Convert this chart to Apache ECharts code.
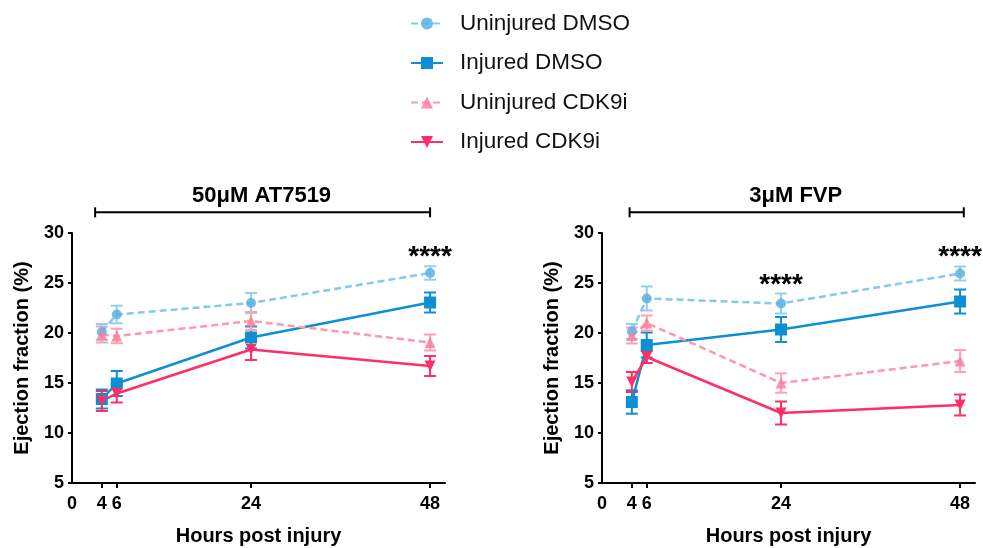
<!DOCTYPE html>
<html><head><meta charset="utf-8">
<script src="https://cdn.jsdelivr.net/npm/echarts@6/dist/echarts.min.js"></script>
<style>html,body{margin:0;padding:0;background:#fff}#c{width:983px;height:548px}</style>
</head><body><div id="c"></div>
<script>
// ---------- data ----------
const hours = [4, 6, 24, 48];
const xTickValues = [0, 4, 6, 24, 48];
const seriesNames = ['Uninjured DMSO', 'Injured DMSO', 'Uninjured CDK9i', 'Injured CDK9i'];
const panelTitles = ['50μM AT7519', '3μM FVP'];

// 50μM AT7519 panel (mean, SEM)
const at_uninjDMSO = [20.1, 21.85, 23.0, 26.0];
const at_uninjDMSO_err = [0.8, 0.88, 1.0, 0.67];
const at_injDMSO = [13.4, 14.95, 19.55, 23.05];
const at_injDMSO_err = [0.95, 1.25, 1.1, 1.0];
const at_uninjCDK = [19.85, 19.7, 21.2, 19.05];
const at_uninjCDK_err = [0.8, 0.72, 0.9, 0.8];
const at_injCDK = [13.2, 13.95, 18.35, 16.7];
const at_injCDK_err = [1.0, 0.9, 1.05, 1.0];

// 3μM FVP panel (mean, SEM)
const fvp_uninjDMSO = [20.15, 23.45, 22.95, 25.95];
const fvp_uninjDMSO_err = [0.75, 1.2, 1.0, 0.7];
const fvp_injDMSO = [13.1, 18.8, 20.35, 23.15];
const fvp_injDMSO_err = [1.17, 1.25, 1.25, 1.2];
const fvp_uninjCDK = [19.75, 21.0, 15.0, 17.2];
const fvp_uninjCDK_err = [0.8, 0.75, 0.97, 1.1];
const fvp_injCDK = [15.1, 17.6, 12.0, 12.8];
const fvp_injCDK_err = [1.0, 0.6, 1.15, 1.05];

// significance marks [hour, y]
const sigLeft = [[48, 28.1]];
const sigRight = [[24, 25.25], [48, 28.1]];
// bracket spans (hours)
const bracketLeft = [3.1, 48];
const bracketRight = [3.7, 48.5];

// ---------- styles ----------
const FONT = '"Liberation Sans", Arial, Helvetica, sans-serif';
const styles = [
  {line: '#86C9EA', marker: '#5DB2DF', dash: [7, 4], symbol: 'circle', size: 10, opacity: 0.85},
  {line: '#0C8FD3', marker: '#0C8FD3', dash: 'solid', symbol: 'rect', size: 12, opacity: 1},
  {line: '#FF97B0', marker: '#F9809F', dash: [7, 4], symbol: 'triangle', size: 11, opacity: 0.85},
  {line: '#FF2D68', marker: '#FF2D68', dash: 'solid', symbol: 'path://M0,0 L10,0 L5,9 Z', size: 11, opacity: 1}
];
const errColors = ['#93CFEC', '#0C8FD3', '#FFA0B7', '#FF2D68'];

const panels = [
  {means: [at_uninjDMSO, at_injDMSO, at_uninjCDK, at_injCDK],
   errs: [at_uninjDMSO_err, at_injDMSO_err, at_uninjCDK_err, at_injCDK_err]},
  {means: [fvp_uninjDMSO, fvp_injDMSO, fvp_uninjCDK, fvp_injCDK],
   errs: [fvp_uninjDMSO_err, fvp_injDMSO_err, fvp_uninjCDK_err, fvp_injCDK_err]}
];

const grids = [
  {left: 72, top: 233, width: 373, height: 250},
  {left: 602, top: 233, width: 373, height: 250}
];

function makeX(i) {
  return {
    type: 'value', gridIndex: i, min: 0, max: 50,
    name: 'Hours post injury', nameLocation: 'middle', nameGap: 43,
    nameTextStyle: {fontFamily: FONT, fontWeight: 'bold', fontSize: 20, color: '#000'},
    axisLine: {onZero: false, lineStyle: {color: '#000', width: 2}},
    axisTick: {show: true, length: 5, lineStyle: {color: '#000', width: 2}, customValues: xTickValues.slice(1)},
    axisLabel: {fontFamily: FONT, fontWeight: 'bold', fontSize: 18, color: '#000', margin: 12, customValues: xTickValues},
    splitLine: {show: false}
  };
}
function makeY(i) {
  return {
    type: 'value', gridIndex: i, min: 5, max: 30, interval: 5,
    name: 'Ejection fraction (%)', nameLocation: 'middle', nameGap: 40,
    nameTextStyle: {fontFamily: FONT, fontWeight: 'bold', fontSize: 20, color: '#000'},
    axisLine: {show: true, lineStyle: {color: '#000', width: 2}},
    axisTick: {show: true, length: 4, lineStyle: {color: '#000', width: 2}},
    axisLabel: {fontFamily: FONT, fontWeight: 'bold', fontSize: 18, color: '#000', margin: 8},
    splitLine: {show: false}
  };
}

const series = [];
panels.forEach((p, gi) => {
  // error bars
  p.means.forEach((m, si) => {
    const data = hours.map((h, k) => [h, m[k] - p.errs[si][k], m[k] + p.errs[si][k]]);
    series.push({
      type: 'custom', name: 'err' + gi + '_' + si, xAxisIndex: gi, yAxisIndex: gi, z: 2,
      encode: {x: 0, y: [1, 2]}, silent: true,
      data: data,
      renderItem: function (params, api) {
        const x = api.value(0);
        const lo = api.coord([x, api.value(1)]);
        const hi = api.coord([x, api.value(2)]);
        const hw = 6;
        const st = {stroke: errColors[si], lineWidth: 2};
        return {type: 'group', children: [
          {type: 'line', shape: {x1: lo[0], y1: lo[1], x2: hi[0], y2: hi[1]}, style: st},
          {type: 'line', shape: {x1: lo[0] - hw, y1: lo[1], x2: lo[0] + hw, y2: lo[1]}, style: st},
          {type: 'line', shape: {x1: hi[0] - hw, y1: hi[1], x2: hi[0] + hw, y2: hi[1]}, style: st}
        ]};
      }
    });
  });
  // lines
  p.means.forEach((m, si) => {
    const s = styles[si];
    series.push({
      type: 'line', name: seriesNames[si], xAxisIndex: gi, yAxisIndex: gi, z: 3,
      data: hours.map((h, k) => [h, m[k]]),
      symbol: s.symbol, symbolSize: s.size, showAllSymbol: true,
      lineStyle: {color: s.line, width: 2.5, type: s.dash},
      itemStyle: {color: s.marker, opacity: s.opacity},
      emphasis: {disabled: true}, animation: false
    });
  });
});

const chart = echarts.init(document.getElementById('c'), null, {renderer: 'canvas'});
chart.setOption({
  animation: false,
  backgroundColor: '#fff',
  grid: grids,
  xAxis: [makeX(0), makeX(1)],
  yAxis: [makeY(0), makeY(1)],
  legend: {
    data: seriesNames, orient: 'vertical', left: 405, top: 7,
    itemWidth: 32, itemHeight: 15, itemGap: 16.5, selectedMode: false,
    textStyle: {fontFamily: FONT, fontSize: 22.5, color: '#111', lineHeight: 22, padding: [0, 0, 0, 12]}
  },
  series: series
});

// annotations: titles, brackets, significance stars
const graphics = [];
[[bracketLeft, sigLeft], [bracketRight, sigRight]].forEach(([br, sig], gi) => {
  const a = chart.convertToPixel({gridIndex: gi}, [br[0], 32.07]);
  const b = chart.convertToPixel({gridIndex: gi}, [br[1], 32.07]);
  const st = {stroke: '#000', lineWidth: 2};
  graphics.push({type: 'line', shape: {x1: a[0], y1: a[1], x2: b[0], y2: b[1]}, style: st});
  graphics.push({type: 'line', shape: {x1: a[0], y1: a[1] - 5, x2: a[0], y2: a[1] + 5}, style: st});
  graphics.push({type: 'line', shape: {x1: b[0], y1: b[1] - 5, x2: b[0], y2: b[1] + 5}, style: st});
  graphics.push({type: 'text', x: (a[0] + b[0]) / 2 - 1, y: a[1] - 16,
    style: {text: panelTitles[gi], fontFamily: FONT, fontWeight: 'bold', fontSize: 22, fill: '#000', textAlign: 'center', textVerticalAlign: 'middle'}});
  sig.forEach(pt => {
    const c = chart.convertToPixel({gridIndex: gi}, pt);
    graphics.push({type: 'text', x: c[0], y: c[1] + 5,
      style: {text: '****', fontFamily: FONT, fontWeight: 'bold', fontSize: 28, fill: '#000', textAlign: 'center', textVerticalAlign: 'middle'}});
  });
});
chart.setOption({graphic: graphics});
</script>
</body></html>
